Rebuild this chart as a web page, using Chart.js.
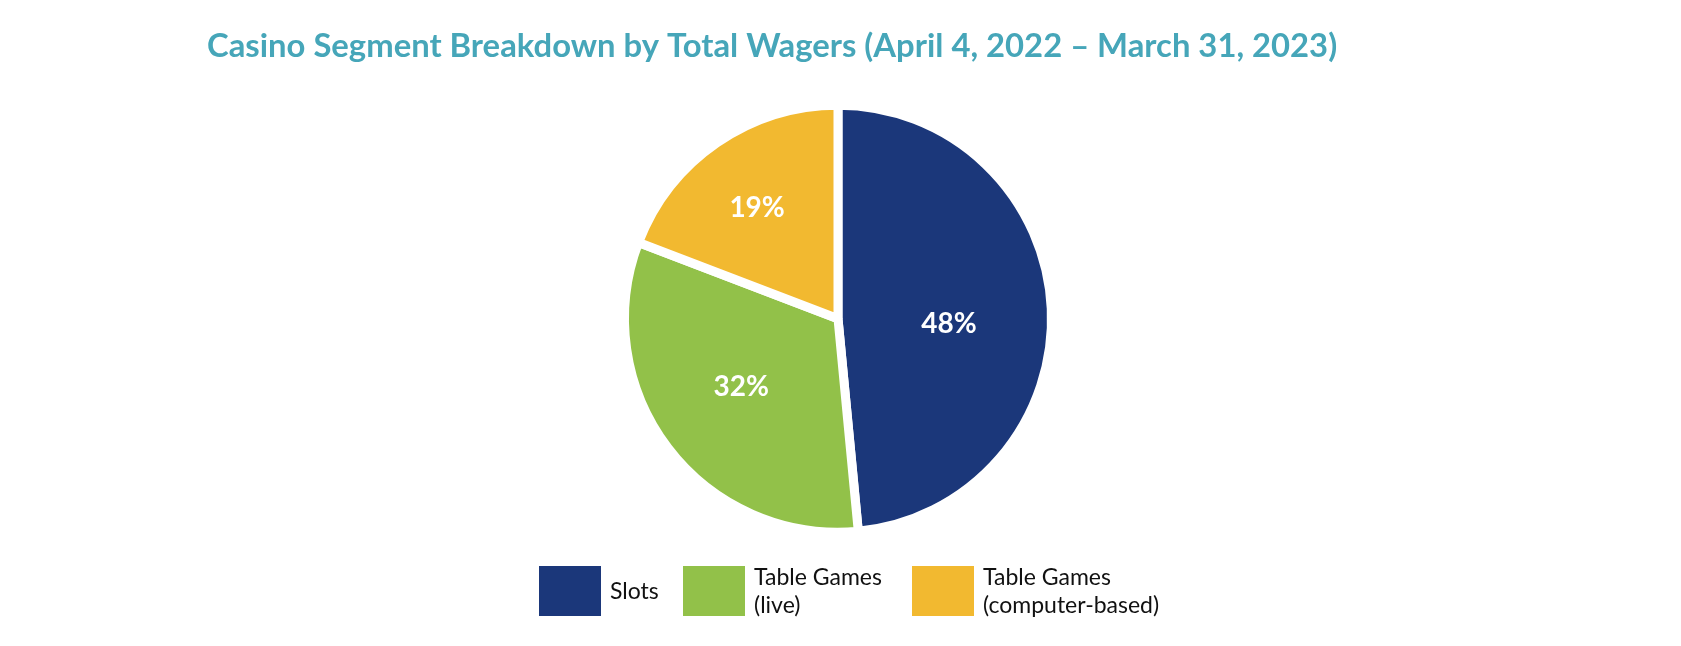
<!DOCTYPE html>
<html>
<head>
<meta charset="utf-8">
<script src="https://cdn.jsdelivr.net/npm/chart.js@4.4.1/dist/chart.umd.min.js"></script>
<style>
  html, body { margin: 0; padding: 0; background: #ffffff; }
  #wrap { position: relative; width: 1681px; height: 646px; }
</style>
</head>
<body>
<div id="wrap"><canvas id="c" width="1681" height="646"></canvas></div>
<script>
const titleText = 'Casino Segment Breakdown by Total Wagers (April 4, 2022 \u2013 March 31, 2023)';
const categories = ['Slots', 'Table Games (live)', 'Table Games (computer-based)'];
const legendLines = [['Slots'], ['Table Games', '(live)'], ['Table Games', '(computer-based)']];
const shareValues = [48, 32, 19];
const shareLabels = ['48%', '32%', '19%'];
const sliceColors = ['#1B377A', '#92C149', '#F2B930'];

const sliceLabelPlugin = {
  id: 'sliceLabels',
  afterDatasetsDraw(chart, args, opts) {
    const ctx = chart.ctx;
    const meta = chart.getDatasetMeta(0);
    ctx.save();
    ctx.font = opts.font;
    ctx.fillStyle = opts.color;
    ctx.textAlign = 'center';
    ctx.textBaseline = 'middle';
    meta.data.forEach((arc, i) => {
      const p = arc.getProps(['x', 'y', 'startAngle', 'endAngle', 'outerRadius'], true);
      const mid = (p.startAngle + p.endAngle) / 2;
      const r = p.outerRadius * opts.radii[i];
      const adj = opts.nudge[i];
      ctx.fillText(shareLabels[i], p.x + Math.cos(mid) * r + adj[0], p.y + Math.sin(mid) * r + 2 + adj[1]);
    });
    ctx.restore();
  }
};

const boxLegendPlugin = {
  id: 'boxLegend',
  afterDraw(chart, args, opts) {
    const ctx = chart.ctx;
    const ca = chart.chartArea;
    const cx = (ca.left + ca.right) / 2;
    const left = cx + opts.offsetX;
    ctx.save();
    ctx.font = opts.font;
    ctx.textAlign = 'left';
    ctx.textBaseline = 'middle';
    legendLines.forEach((lines, i) => {
      const x = left + opts.columns[i];
      ctx.fillStyle = sliceColors[i];
      ctx.fillRect(x, opts.top, opts.boxW, opts.boxH);
      ctx.fillStyle = opts.color;
      const midY = opts.top + opts.boxH / 2;
      const startY = midY - (lines.length - 1) * opts.lineH / 2 + 1;
      lines.forEach((t, j) => {
        ctx.fillText(t, x + opts.boxW + opts.textGap, startY + j * opts.lineH);
      });
    });
    ctx.restore();
  }
};

function build() {
  new Chart(document.getElementById('c'), {
    type: 'pie',
    data: {
      labels: categories,
      datasets: [{
        data: shareValues,
        backgroundColor: sliceColors,
        borderColor: '#ffffff',
        borderWidth: 9,
        hoverOffset: 0
      }]
    },
    options: {
      responsive: false,
      animation: false,
      radius: 213.5,
      layout: { padding: { left: 207, right: 212, top: 0, bottom: 84 } },
      plugins: {
        legend: { display: false },
        tooltip: { enabled: false },
        title: {
          display: true,
          text: titleText,
          align: 'start',
          color: '#46A6B9',
          font: { family: 'Lato', size: 32.8, weight: 'bold' },
          padding: { top: 27, bottom: 9 }
        },
        sliceLabels: {
          font: 'bold 28px Lato',
          color: '#ffffff',
          radii: [0.52, 0.575, 0.66],
          nudge: [[0, 9], [1, -8], [-1, 3]]
        },
        boxLegend: {
          font: '23px Lato',
          color: '#111111',
          top: 566,
          boxW: 62,
          boxH: 50,
          textGap: 9,
          lineH: 28,
          offsetX: -299,
          columns: [0, 144, 373]
        }
      }
    },
    plugins: [sliceLabelPlugin, boxLegendPlugin]
  });
}

Promise.all([
  document.fonts.load('bold 33px Lato'),
  document.fonts.load('23px Lato')
]).then(build, build);
</script>
</body>
</html>
